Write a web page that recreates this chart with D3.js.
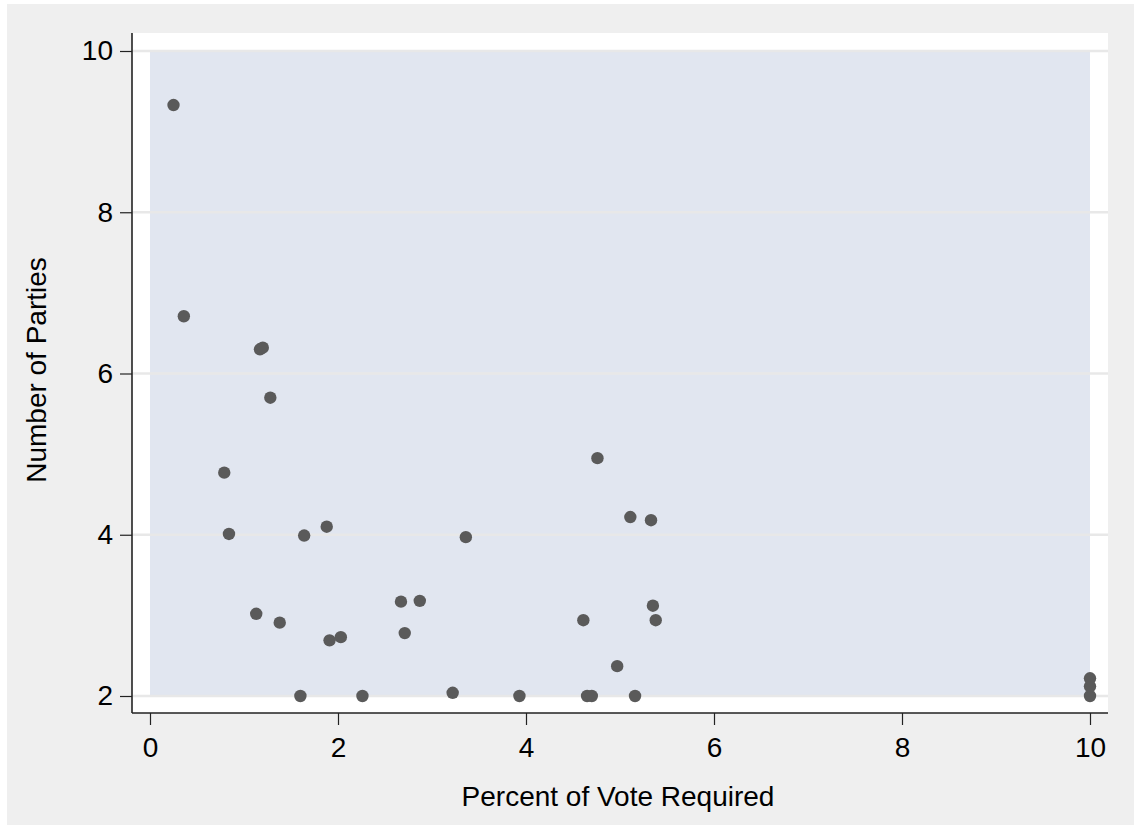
<!DOCTYPE html>
<html>
<head>
<meta charset="utf-8">
<script src="https://cdn.jsdelivr.net/npm/d3@7"></script>
<style>
  body { margin: 0; background: #fff; }
  text { font-family: "Liberation Sans", Arial, sans-serif; fill: #000; }
</style>
</head>
<body>
<script>
const width = 1134;
const height = 825;

// threshold (% of vote) and effective number of parties
const threshold = [0.25, 0.36, 1.17, 1.20, 1.28, 0.79, 0.84, 1.64, 1.88, 3.36, 4.76, 5.11, 5.33,
  1.13, 1.38, 1.91, 2.03, 2.67, 2.87, 2.71, 4.61, 5.35, 5.38, 4.97,
  1.60, 2.26, 3.22, 3.93, 4.65, 4.70, 5.16, 10, 10, 10];
const parties = [9.33, 6.71, 6.30, 6.32, 5.70, 4.77, 4.01, 3.99, 4.10, 3.97, 4.95, 4.22, 4.18,
  3.02, 2.91, 2.69, 2.73, 3.17, 3.18, 2.78, 2.94, 3.12, 2.94, 2.37,
  2.0, 2.0, 2.04, 2.0, 2.0, 2.0, 2.0, 2.0, 2.12, 2.22];
const xTicks = [0, 2, 4, 6, 8, 10];
const yTicks = [2, 4, 6, 8, 10];

const svg = d3.select('body').append('svg')
  .attr('width', width)
  .attr('height', height);

// graph region
svg.append('rect')
  .attr('x', 7).attr('y', 4)
  .attr('width', width - 7).attr('height', height - 4)
  .attr('fill', '#efefef');

const x = d3.scaleLinear().domain([0, 10]).range([150, 1090]);
const y = d3.scaleLinear().domain([2, 10]).range([696, 51]);

const box = { left: 132, right: 1108, top: 33, bottom: 713 };

// plot region (white) and inner shaded area
svg.append('rect')
  .attr('x', box.left).attr('y', box.top)
  .attr('width', box.right - box.left).attr('height', box.bottom - box.top)
  .attr('fill', '#fff');

svg.append('rect')
  .attr('x', x(0)).attr('y', y(10))
  .attr('width', x(10) - x(0)).attr('height', y(2) - y(10))
  .attr('fill', '#e1e6f0');

// grid lines
svg.append('g')
  .selectAll('line')
  .data(yTicks)
  .enter().append('line')
    .attr('x1', box.left).attr('x2', box.right)
    .attr('y1', d => y(d)).attr('y2', d => y(d))
    .attr('stroke', '#e8e8e8')
    .attr('stroke-width', 2.5);

// axes
const xAxis = svg.append('g')
  .attr('transform', `translate(0,${box.bottom})`)
  .call(d3.axisBottom(x).tickValues(xTicks).tickSize(12).tickPadding(12).tickSizeOuter(0));
xAxis.select('.domain').attr('d', `M${box.left},0H${box.right}`);

const yAxis = svg.append('g')
  .attr('transform', `translate(${box.left},0)`)
  .call(d3.axisLeft(y).tickValues(yTicks).tickSize(12).tickPadding(7).tickSizeOuter(0));
yAxis.select('.domain').attr('d', `M0,${box.top}V${box.bottom}`);

svg.selectAll('.domain').attr('stroke', '#222').attr('stroke-width', 1.6);
svg.selectAll('.tick line').attr('stroke', '#222').attr('stroke-width', 1.2);
svg.selectAll('.tick text')
  .style('font-size', '28px')
  .attr('fill', '#000');

// titles
svg.append('text')
  .attr('x', 618)
  .attr('y', 806)
  .attr('text-anchor', 'middle')
  .style('font-size', '28px')
  .text('Percent of Vote Required');

svg.append('text')
  .attr('transform', `translate(46,370) rotate(-90)`)
  .attr('text-anchor', 'middle')
  .style('font-size', '28px')
  .text('Number of Parties');

// points
svg.append('g')
  .selectAll('circle')
  .data(threshold.map((t, i) => [t, parties[i]]))
  .enter().append('circle')
    .attr('cx', d => x(d[0]))
    .attr('cy', d => y(d[1]))
    .attr('r', 6.2)
    .attr('fill', '#5a5a5a');
</script>
</body>
</html>
